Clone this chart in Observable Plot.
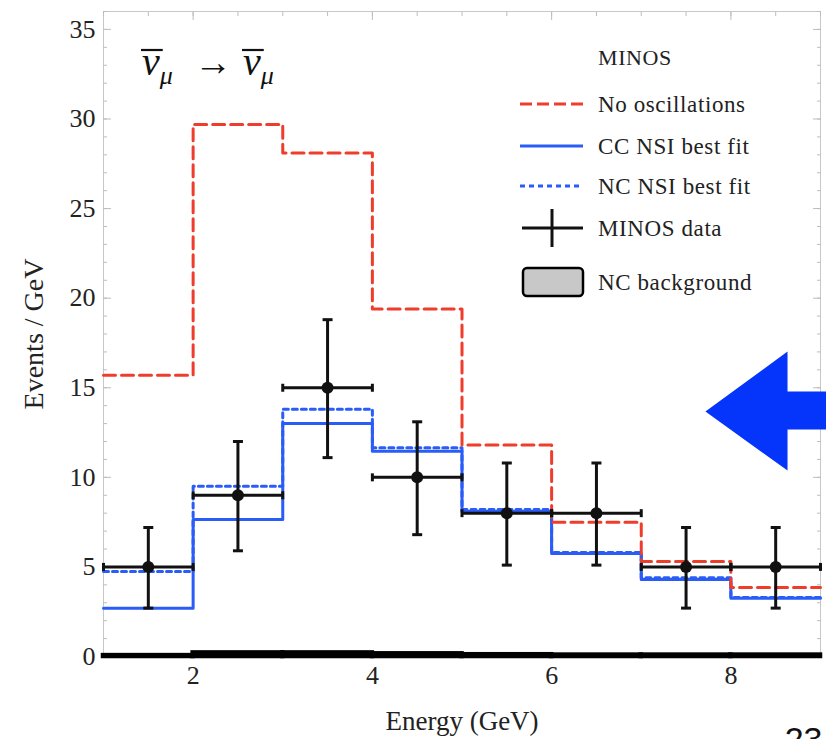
<!DOCTYPE html>
<html><head><meta charset="utf-8">
<script src="https://cdn.jsdelivr.net/npm/d3@7"></script>
<script src="https://cdn.jsdelivr.net/npm/@observablehq/plot@0.6"></script>
<style>html,body{margin:0;padding:0;background:#fff;overflow:hidden}svg{display:block}</style>
</head><body><div id="chart"></div>
<script>
// ---- data ----
const binLo = [1, 2, 3, 4, 5, 6, 7, 8];
const binHi = [2, 3, 4, 5, 6, 7, 8, 9];
const noOscillations = [15.7, 29.7, 28.1, 19.4, 11.8, 7.5, 5.3, 3.85];
const ccNSI = [2.7, 7.65, 13.0, 11.45, 8.1, 5.75, 4.3, 3.25];
const ncNSI = [4.75, 9.5, 13.8, 11.65, 8.2, 5.8, 4.4, 3.3];
const minosData = [5, 9, 15, 10, 8, 8, 5, 5];
const minosLow = [2.7, 5.9, 11.1, 6.8, 5.1, 5.1, 2.7, 2.7];
const minosHigh = [7.2, 12.0, 18.8, 13.1, 10.8, 10.8, 7.2, 7.2];
const ncBackground = [0.05, 0.2, 0.2, 0.15, 0.1, 0.08, 0.08, 0.08];
const xTicks = [2, 4, 6, 8];
const yTicks = [0, 5, 10, 15, 20, 25, 30, 35];
const legendTitle = "MINOS";
const legendLabels = ["No oscillations", "CC NSI best fit", "NC NSI best fit", "MINOS data", "NC background"];
const xLabel = "Energy (GeV)";
const yLabel = "Events / GeV";
const pageNumber = "23";
// annotation arrow outline (data coordinates)
const arrowX = [7.716, 8.632, 8.632, 9.07, 9.07, 8.632, 8.632];
const arrowY = [13.67, 17.02, 14.79, 14.79, 12.67, 12.67, 10.38];

// ---- styles ----
const red = "#ef3d2c", blue = "#2a5cf7", black = "#111", arrowBlue = "#0535fb", tickGray = "#bdbdbd";
const serif = "'Liberation Serif', 'Times New Roman', serif";

const step = vals => vals.map((v, i) => ({x: binLo[i], y: v}))
  .concat([{x: binHi[binHi.length - 1], y: vals[vals.length - 1]}]);
const rows = minosData.map((v, i) => ({
  lo: binLo[i], hi: binHi[i], c: (binLo[i] + binHi[i]) / 2,
  v, e0: minosLow[i], e1: minosHigh[i], bg: ncBackground[i]
}));
const arrow = arrowX.map((x, i) => ({x, y: arrowY[i]}));
const hcap = {draw(ctx, size) { const w = Math.sqrt(size / Math.PI); ctx.moveTo(-w, 0); ctx.lineTo(w, 0); }};
const vcap = {draw(ctx, size) { const w = Math.sqrt(size / Math.PI); ctx.moveTo(0, -w); ctx.lineTo(0, w); }};

const chart = Plot.plot({
  width: 826, height: 739,
  marginLeft: 103, marginRight: 6, marginTop: 11, marginBottom: 83,
  style: {fontFamily: serif, background: "#fff", color: "#222", overflow: "visible"},
  x: {domain: [1, 9]},
  y: {domain: [0, 36]},
  marks: [
    Plot.frame({stroke: "#c8c8c8"}),
    // inward ticks on all four sides
    Plot.axisY(d3.range(0, 37, 1), {anchor: "left", tickSize: -4, fill: "none", label: null, stroke: tickGray}),
    Plot.axisY(yTicks, {anchor: "left", tickSize: -8, fill: "none", label: null, stroke: tickGray}),
    Plot.axisY(d3.range(0, 37, 1), {anchor: "right", tickSize: -4, fill: "none", label: null, stroke: tickGray}),
    Plot.axisY(yTicks, {anchor: "right", tickSize: -8, fill: "none", label: null, stroke: tickGray}),
    Plot.axisX(d3.range(1, 9.01, 0.5), {anchor: "top", tickSize: -4, fill: "none", label: null, stroke: tickGray}),
    Plot.axisX(xTicks, {anchor: "top", tickSize: -8, fill: "none", label: null, stroke: tickGray}),
    // tick labels
    Plot.axisY(yTicks, {anchor: "left", tickSize: 0, tickPadding: 8, fontSize: 26, fontFamily: serif, label: null, fill: "#222"}),
    Plot.axisX(xTicks, {anchor: "bottom", tickSize: 0, tickPadding: 9, fontSize: 26, fontFamily: serif, label: null, fill: "#222"}),
    // axis titles
    Plot.text([yLabel], {frameAnchor: "left", dx: -69, rotate: -90, textAnchor: "middle", lineAnchor: "middle",
      fontSize: 28, fontFamily: serif, fill: "#222", text: d => d}),
    Plot.text([xLabel], {frameAnchor: "bottom", dy: 73, textAnchor: "middle", lineAnchor: "bottom",
      fontSize: 27, fontFamily: serif, fill: "#222", text: d => d}),
    // model histograms
    Plot.line(step(ccNSI), {x: "x", y: "y", curve: "step-after", stroke: blue, strokeWidth: 3}),
    Plot.line(step(ncNSI), {x: "x", y: "y", curve: "step-after", stroke: blue, strokeWidth: 3, strokeDasharray: "5,4"}),
    Plot.line(step(noOscillations), {x: "x", y: "y", curve: "step-after", stroke: red, strokeWidth: 3, strokeDasharray: "12,6"}),
    // NC background
    Plot.rectY(rows, {x1: "lo", x2: "hi", y: "bg", fill: "#c8c8c8", stroke: "#000", strokeWidth: 4.5, clip: false}),
    // MINOS data with error bars
    Plot.ruleY(rows, {x1: "lo", x2: "hi", y: "v", stroke: black, strokeWidth: 3}),
    Plot.ruleX(rows, {x: "c", y1: "e0", y2: "e1", stroke: black, strokeWidth: 3}),
    Plot.dot(rows, {x: "c", y: "e0", symbol: hcap, r: 5, fill: "none", stroke: black, strokeWidth: 3}),
    Plot.dot(rows, {x: "c", y: "e1", symbol: hcap, r: 5, fill: "none", stroke: black, strokeWidth: 3}),
    Plot.dot(rows, {x: "lo", y: "v", symbol: vcap, r: 4, fill: "none", stroke: black, strokeWidth: 3}),
    Plot.dot(rows, {x: "hi", y: "v", symbol: vcap, r: 4, fill: "none", stroke: black, strokeWidth: 3}),
    Plot.dot(rows, {x: "c", y: "v", r: 6, fill: black, stroke: "none"}),
    // blue annotation arrow
    Plot.line(arrow, {x: "x", y: "y", fill: arrowBlue, stroke: "none", clip: false}),
    // page number (cut by the slide edge, as in the reference)
    Plot.text([pageNumber], {frameAnchor: "bottom-right", dx: 2, dy: 94, textAnchor: "end", lineAnchor: "bottom",
      fontSize: 34, fontFamily: "'Liberation Sans', Arial, sans-serif", fill: "#111", text: d => d})
  ]
});

document.getElementById("chart").appendChild(chart);

// ---- legend (inside frame, top right) ----
const svg = d3.select(chart);
const lg = svg.append("g").style("font-family", serif).attr("fill", "#222")
  .attr("text-anchor", "start").attr("letter-spacing", "0.6");
lg.append("text").attr("x", 598).attr("y", 57).attr("dy", "0.35em").style("font-size", "22px").text(legendTitle);
const rowY = [104, 146, 186, 228, 282];
lg.append("line").attr("x1", 520).attr("x2", 583).attr("y1", rowY[0]).attr("y2", rowY[0])
  .attr("stroke", red).attr("stroke-width", 3).attr("stroke-dasharray", "12,5");
lg.append("line").attr("x1", 520).attr("x2", 583).attr("y1", rowY[1]).attr("y2", rowY[1])
  .attr("stroke", blue).attr("stroke-width", 3);
lg.append("line").attr("x1", 520).attr("x2", 583).attr("y1", rowY[2]).attr("y2", rowY[2])
  .attr("stroke", blue).attr("stroke-width", 3).attr("stroke-dasharray", "5,4");
lg.append("line").attr("x1", 522).attr("x2", 583).attr("y1", rowY[3]).attr("y2", rowY[3])
  .attr("stroke", black).attr("stroke-width", 3);
lg.append("line").attr("x1", 552).attr("x2", 552).attr("y1", rowY[3] - 19).attr("y2", rowY[3] + 19)
  .attr("stroke", black).attr("stroke-width", 3);
lg.append("rect").attr("x", 523).attr("y", rowY[4] - 14).attr("width", 60).attr("height", 28).attr("rx", 4)
  .attr("fill", "#c8c8c8").attr("stroke", "#000").attr("stroke-width", 2.5);
legendLabels.forEach((t, i) => {
  lg.append("text").attr("x", 598).attr("y", rowY[i]).attr("dy", "0.35em").style("font-size", "23px").text(t);
});

// ---- channel label  ν̄μ → ν̄μ ----
const tt = svg.append("text").attr("y", 75).style("font-family", serif).attr("fill", "#111")
  .attr("text-anchor", "start");
tt.append("tspan").attr("x", 142).attr("font-style", "italic").style("font-size", "40px").text("\u03BD");
tt.append("tspan").attr("font-style", "italic").style("font-size", "26px").attr("dy", 9).text("\u03BC");
tt.append("tspan").attr("x", 194).attr("dy", -9).style("font-size", "38px").text("\u2192");
tt.append("tspan").attr("x", 243).attr("font-style", "italic").style("font-size", "40px").text("\u03BD");
tt.append("tspan").attr("font-style", "italic").style("font-size", "26px").attr("dy", 9).text("\u03BC");
// overlines above the two ν
[0, 3].forEach(ci => {
  const e = tt.node().getExtentOfChar(ci);
  svg.append("line").attr("x1", e.x - 1).attr("x2", e.x + e.width + 3).attr("y1", 50).attr("y2", 50)
    .attr("stroke", "#111").attr("stroke-width", 2.2);
});
</script>
</body></html>
